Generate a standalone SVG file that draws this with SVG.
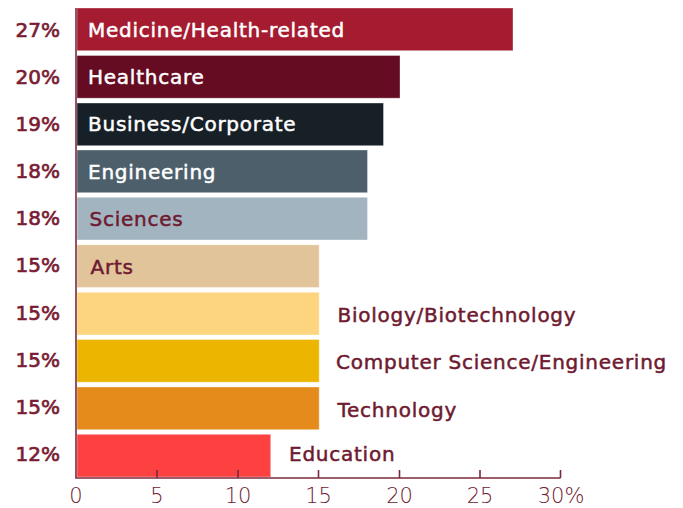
<svg xmlns="http://www.w3.org/2000/svg" width="683" height="508" viewBox="0 0 683 508">
<style>
.pct{font-family:"DejaVu Sans","Liberation Sans",sans-serif;font-size:20px;fill:#7a1d34;stroke:#7a1d34;stroke-width:0.7px;text-anchor:end}
.lbl{font-family:"DejaVu Sans","Liberation Sans",sans-serif;font-size:20px;stroke-width:0.5px;letter-spacing:0.75px}
.w{fill:#ffffff;stroke:#ffffff}
.m{fill:#6e1a30;stroke:#6e1a30}
.tick{font-family:"DejaVu Sans","Liberation Sans",sans-serif;font-size:21px;font-weight:200;fill:#6e1a30;text-anchor:middle}
.ax{stroke:#7a2a3e;stroke-width:1.6;fill:none}
.bar{stroke:#ffffff;stroke-opacity:0.35;stroke-width:1}
</style>
<rect width="683" height="508" fill="#ffffff"/>
<g id="bar-medicine"><rect class="bar" x="77" y="8" width="436" height="42.7" fill="#a51c30"/><text class="lbl w" x="88" y="37.3">Medicine/Health-related</text><text class="pct" x="60" y="37.3">27%</text></g>
<g id="bar-healthcare"><rect class="bar" x="77" y="55.5" width="323" height="42.7" fill="#650b22"/><text class="lbl w" x="88" y="83.5">Healthcare</text><text class="pct" x="60" y="83.5">20%</text></g>
<g id="bar-business"><rect class="bar" x="77" y="103" width="306.5" height="42.7" fill="#182027"/><text class="lbl w" x="88" y="130.8">Business/Corporate</text><text class="pct" x="60" y="130.8">19%</text></g>
<g id="bar-engineering"><rect class="bar" x="77" y="150" width="290.5" height="42.7" fill="#4c5f6b"/><text class="lbl w" x="88" y="178.5">Engineering</text><text class="pct" x="60" y="178.3">18%</text></g>
<g id="bar-sciences"><rect class="bar" x="77" y="197.3" width="290.5" height="42.7" fill="#a2b4bf"/><text class="lbl m" x="89.5" y="226">Sciences</text><text class="pct" x="60" y="225.3">18%</text></g>
<g id="bar-arts"><rect class="bar" x="77" y="244.8" width="242.2" height="42.7" fill="#e2c49a"/><text class="lbl m" x="90.5" y="273.5">Arts</text><text class="pct" x="60" y="272.3">15%</text></g>
<g id="bar-biology"><rect class="bar" x="77" y="292.3" width="242.2" height="42.7" fill="#fdd57e"/><text class="lbl m" x="337.5" y="321.8">Biology/Biotechnology</text><text class="pct" x="60" y="320">15%</text></g>
<g id="bar-cs"><rect class="bar" x="77" y="339.5" width="242.2" height="42.7" fill="#ecb600"/><text class="lbl m" x="336" y="369.3">Computer Science/Engineering</text><text class="pct" x="60" y="367">15%</text></g>
<g id="bar-technology"><rect class="bar" x="77" y="387" width="242.2" height="42.7" fill="#e48b1c"/><text class="lbl m" x="337.5" y="416.7">Technology</text><text class="pct" x="60" y="414">15%</text></g>
<g id="bar-education"><rect class="bar" x="77" y="434.3" width="193.7" height="42.7" fill="#fd4040"/><text class="lbl m" x="289" y="460.7">Education</text><text class="pct" x="60" y="461">12%</text></g>
<g id="axis">
<path class="ax" d="M76,8 V478 H560.5 M157,478 V470 M238,478 V470 M318.5,478 V470 M399.5,478 V470 M480,478 V470 M560.5,478 V470"/>
<text class="tick" x="76" y="503">0</text>
<text class="tick" x="157" y="503">5</text>
<text class="tick" x="238" y="503">10</text>
<text class="tick" x="318.5" y="503">15</text>
<text class="tick" x="399.5" y="503">20</text>
<text class="tick" x="480" y="503">25</text>
<text class="tick" x="561" y="503">30%</text>
</g>
</svg>
